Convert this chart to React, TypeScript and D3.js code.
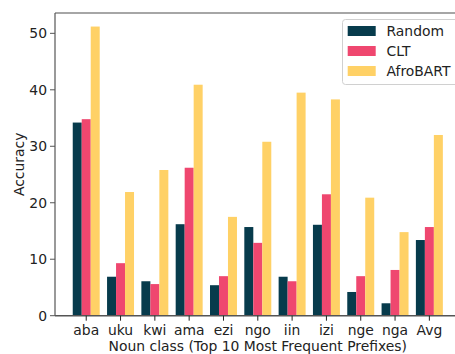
import React from "react";
import * as d3 from "d3";

const categories = ["aba", "uku", "kwi", "ama", "ezi", "ngo", "iin", "izi", "nge", "nga", "Avg"];
const randomVals = [34.2, 6.9, 6.1, 16.2, 5.4, 15.7, 6.9, 16.1, 4.2, 2.2, 13.4];
const cltVals = [34.8, 9.3, 5.6, 26.2, 7.0, 12.9, 6.1, 21.5, 7.0, 8.1, 15.7];
const afroVals = [51.2, 21.9, 25.8, 40.9, 17.5, 30.8, 39.5, 38.3, 20.9, 14.8, 32.0];
const seriesNames = ["Random", "CLT", "AfroBART"];
const colors = ["#073b4c", "#ef476f", "#ffd166"];
const yTicks = [0, 10, 20, 30, 40, 50];

const W = 455;
const H = 354;
const FONT = "DejaVu Sans, sans-serif";
const FS = 13.9;

export default function App() {
  const series = [randomVals, cltVals, afroVals];
  const x = d3.scaleLinear().domain([-0.91, 10.91]).range([55, 460.6]);
  const y = d3.scaleLinear().domain([0, 53.6]).range([315.7, 13]);
  const bw = 0.262;
  const unit = x(1) - x(0);
  const left = x(-0.91);
  const right = x(10.91);
  const bottom = y(0);
  const top = y(53.6);

  return (
    <svg width={W} height={H} style={{ position: "absolute", left: 0, top: 0 }} fontFamily={FONT}>
      <rect width={W} height={H} fill="#fff" />
      {series.map((vals, s) =>
        vals.map((v, i) => (
          <rect
            key={`${s}-${i}`}
            x={x(i + (s - 1) * bw - bw / 2)}
            y={y(v)}
            width={bw * unit}
            height={bottom - y(v)}
            fill={colors[s]}
          />
        ))
      )}
      {/* spines */}
      <line x1={left} x2={W + 10} y1={top} y2={top} stroke="#888" strokeWidth={1.5} />
      <line x1={left} x2={left} y1={top} y2={bottom} stroke="#555" strokeWidth={1.2} />
      <line x1={left} x2={W + 10} y1={bottom} y2={bottom} stroke="#555" strokeWidth={1.5} />
      {/* y ticks */}
      {yTicks.map((t) => (
        <g key={t}>
          <line x1={left - 5} x2={left} y1={y(t)} y2={y(t)} stroke="#555" strokeWidth={1} />
          <text x={left - 8} y={y(t)} dy="0.36em" textAnchor="end" fontSize={FS} fill="#222">
            {t}
          </text>
        </g>
      ))}
      {/* x ticks */}
      {categories.map((c, i) => (
        <g key={c}>
          <line x1={x(i)} x2={x(i)} y1={bottom} y2={bottom + 5} stroke="#222" strokeWidth={1} />
          <text x={x(i)} y={bottom + 19} textAnchor="middle" fontSize={FS} fill="#222">
            {c}
          </text>
        </g>
      ))}
      <text x={(left + right) / 2} y={351} textAnchor="middle" fontSize={FS} fill="#222">
        Noun class (Top 10 Most Frequent Prefixes)
      </text>
      <text
        transform={`translate(${18.5},${(top + bottom) / 2}) rotate(-90)`}
        textAnchor="middle"
        dy="0.36em"
        fontSize={FS}
        fill="#222"
      >
        Accuracy
      </text>
      {/* legend */}
      <rect x={342.5} y={19.5} width={130} height={65} rx={3} fill="#fff" fillOpacity={0.8} stroke="#d0d0d0" strokeWidth={1} />
      {seriesNames.map((n, k) => (
        <g key={n}>
          <rect x={347.7} y={26 + k * 20} width={28} height={10} fill={colors[k]} />
          <text x={386.5} y={31 + k * 20} dy="0.36em" fontSize={FS} fill="#222">
            {n}
          </text>
        </g>
      ))}
    </svg>
  );
}
